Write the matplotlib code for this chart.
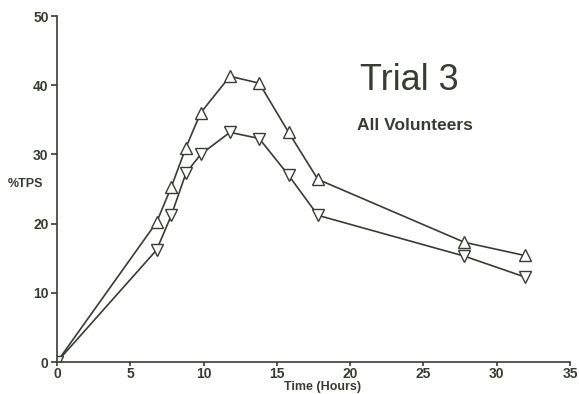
import matplotlib
matplotlib.use("Agg")
import matplotlib.pyplot as plt

plt.rcParams['font.family'] = ['Liberation Sans', 'DejaVu Sans']

# time points (hours) and %TPS for the two curves
hours = [0, 6.8, 7.8, 8.8, 9.8, 11.8, 13.8, 15.8, 17.8, 27.8, 31.9]
upper_tps = [0, 20.2, 25.3, 31, 36, 41.3, 40.3, 33.2, 26.4, 17.3, 15.4]
lower_tps = [0, 16.2, 21.2, 27.3, 30, 33.2, 32.3, 27, 21.2, 15.3, 12.3]

x_ticks = [0, 5, 10, 15, 20, 25, 30, 35]
y_ticks = [0, 10, 20, 30, 40, 50]

ink = "#373d33"

fig = plt.figure(figsize=(5.79, 3.94), dpi=100)
ax = fig.add_axes([0.0984, 0.0812, 0.886, 0.878])

ax.plot(hours, upper_tps, color=ink, lw=1.2, marker='^', ms=9,
        mfc='white', mec=ink, mew=1.0)
ax.plot(hours, lower_tps, color=ink, lw=1.2, marker='v', ms=9,
        mfc='white', mec=ink, mew=1.0)

ax.set_xlim(0, 35)
ax.set_ylim(0, 50)
ax.set_xticks(x_ticks)
ax.set_yticks(y_ticks)
for side in ('top', 'right'):
    ax.spines[side].set_visible(False)
for side in ('left', 'bottom'):
    ax.spines[side].set_color(ink)
    ax.spines[side].set_linewidth(1.2)
ax.tick_params(direction='out', length=4, width=1.2, colors=ink,
               labelsize=10, pad=2)
ax.tick_params(axis='x', length=3, pad=0.5)
for lbl in ax.get_xticklabels() + ax.get_yticklabels():
    lbl.set_fontweight('bold')
    lbl.set_color(ink)
ax.patch.set_alpha(0)

ax.text(-0.095, 0.515, "%TPS", transform=ax.transAxes, fontsize=9,
        fontweight='bold', color=ink, ha='left', va='center')
ax.text(0.518, -0.073, "Time (Hours)", transform=ax.transAxes, fontsize=9,
        fontweight='bold', color=ink, ha='center', va='center')

fig.text(360 / 579, 1 - 90 / 394, "Trial 3", fontsize=26, color=ink,
         ha='left', va='baseline')
fig.text(357 / 579, 1 - 130 / 394, "All Volunteers", fontsize=12.5,
         fontweight='bold', color=ink, ha='left', va='baseline')

fig.savefig("out.png", dpi=100, facecolor='white')
